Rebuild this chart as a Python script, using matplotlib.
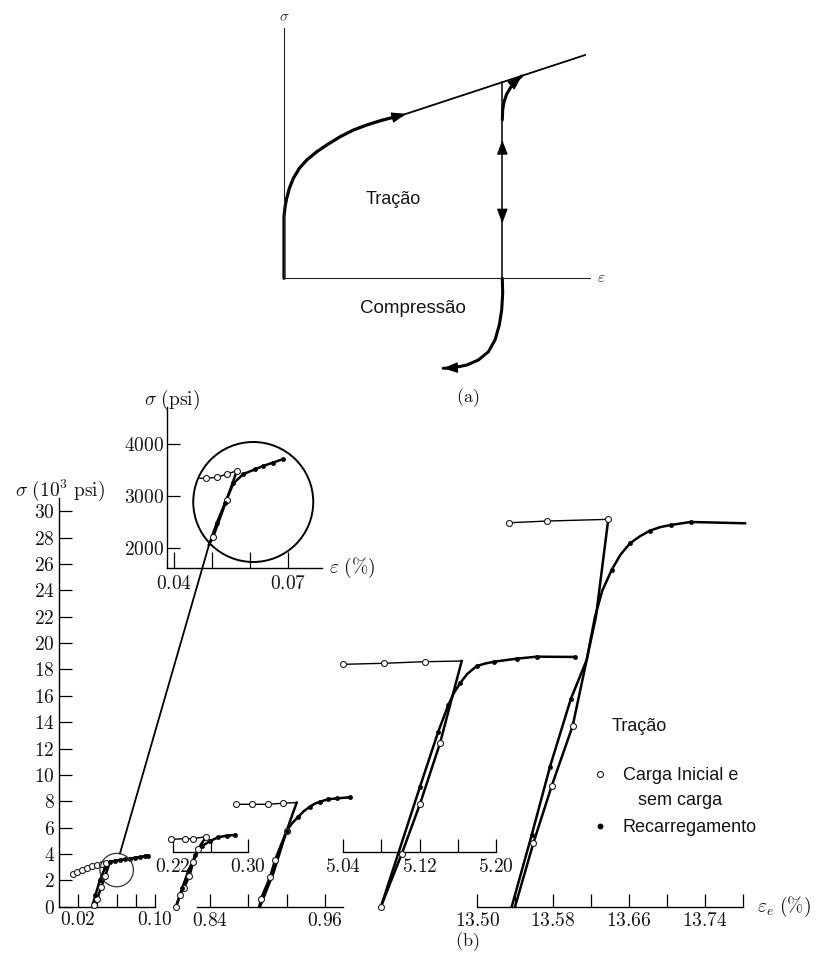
import numpy as np
import matplotlib.pyplot as plt
from matplotlib.lines import Line2D
from matplotlib.patches import Ellipse, ConnectionPatch

plt.rcParams['mathtext.fontset'] = 'cm'
plt.rcParams['font.family'] = ['Liberation Sans', 'DejaVu Sans']

# ---------------------------------------------------------------------------
# (a) schematic curve, arbitrary units (strain, stress)
# ---------------------------------------------------------------------------
a_curve_eps = [0.0, 0.0, 0.0033, 0.0087, 0.0174, 0.0305, 0.0501, 0.0741, 0.1068,
               0.1394, 0.183, 0.2266, 0.2702, 0.3137, 0.3572, 0.3846]
a_curve_sig = [0.0, 0.246, 0.286, 0.320, 0.360, 0.400, 0.440, 0.473, 0.506,
               0.533, 0.566, 0.593, 0.613, 0.630, 0.644, 0.652]
a_line_eps = [0.3846, 0.9837]
a_line_sig = [0.652, 0.893]
a_unload_eps = 0.7134
a_up_tip, a_down_tip = 0.553, 0.22
a_reload_eps = [0.7134, 0.7147, 0.719, 0.7278, 0.7408, 0.7582, 0.7768]
a_reload_sig = [0.633, 0.673, 0.706, 0.737, 0.764, 0.789, 0.809]
a_comp_eps = [0.7134, 0.7147, 0.7114, 0.7036, 0.6895, 0.6678, 0.635, 0.5971, 0.5533, 0.5206]
a_comp_sig = [0.0, -0.06, -0.127, -0.187, -0.247, -0.294, -0.327, -0.347, -0.358, -0.36]

# ---------------------------------------------------------------------------
# (b) measured loops: strain in %, stress in 10^3 psi
# ---------------------------------------------------------------------------
# loop 1
l1_init_eps = [0.0143, 0.0191, 0.0240, 0.0295, 0.0347, 0.0393, 0.0445, 0.0490, 0.0531]
l1_init_sig = [2.48, 2.61, 2.78, 2.96, 3.11, 3.16, 3.22, 3.29, 3.41]
l1_unl_eps = [0.0531, 0.0480, 0.0440, 0.0400, 0.0362]
l1_unl_sig = [3.41, 2.30, 1.50, 0.62, 0.10]
l1_rel_eps = [0.0345, 0.0380, 0.0427, 0.0479, 0.0531, 0.0583, 0.0635, 0.0688,
              0.0740, 0.0792, 0.0844, 0.0896, 0.0930]
l1_rel_sig = [0.0, 0.89, 2.03, 2.94, 3.41, 3.49, 3.54, 3.60, 3.64, 3.72, 3.77, 3.85, 3.87]
l1_zoom_center = (0.0601, 2.78)
l1_link = (0.0635, 4.04)

# loop 1 enlarged, stress in psi
in_init_eps = [0.0468, 0.0483, 0.0512, 0.0538, 0.0565]
in_init_sig = [3343, 3343, 3362, 3420, 3489]
in_unl_eps = [0.0565, 0.0538, 0.0503, 0.0492]
in_unl_sig = [3489, 2927, 2224, 2070]
in_rel_eps = [0.0492, 0.0512, 0.0534, 0.0556, 0.0582, 0.0613, 0.0634, 0.0659, 0.0685]
in_rel_sig = [2070, 2481, 2870, 3247, 3425, 3515, 3579, 3642, 3707]
in_zoom_center = (0.0608, 2889)

# loop 2
l2_init_eps = [0.2179, 0.2330, 0.2418, 0.2552]
l2_init_sig = [5.11, 5.16, 5.16, 5.31]
l2_unl_eps = [0.2552, 0.2471, 0.2418, 0.2376, 0.2320, 0.2277, 0.2235]
l2_unl_sig = [5.31, 4.40, 3.41, 2.30, 1.45, 0.89, 0.0]
l2_rel_eps = [0.2235, 0.2300, 0.2370, 0.2440, 0.2510, 0.2595, 0.2683, 0.2771, 0.2859]
l2_rel_sig = [0.0, 1.40, 2.80, 3.90, 4.60, 4.98, 5.27, 5.39, 5.44]

# loop 3
l3_init_eps = [0.8668, 0.8836, 0.9003, 0.9166, 0.9305]
l3_init_sig = [7.77, 7.77, 7.77, 7.85, 7.90]
l3_unl_eps = [0.9305, 0.9201, 0.9079, 0.9027, 0.8930, 0.8915]
l3_unl_sig = [7.90, 5.77, 3.54, 2.23, 0.58, 0.0]
l3_rel_eps = [0.8922, 0.9061, 0.9201, 0.9260, 0.9322, 0.9380, 0.9444, 0.9495,
              0.9549, 0.9635, 0.9723, 0.9862]
l3_rel_sig = [0.0, 2.53, 5.77, 6.35, 6.83, 7.25, 7.59, 7.82, 7.97, 8.15, 8.22, 8.30]
l3_rel_dots = [2, 4, 6, 8, 9, 10, 11]

# loop 4
l4_init_eps = [5.0400, 5.0830, 5.1258, 5.1643]
l4_init_sig = [18.39, 18.47, 18.59, 18.64]
l4_unl_eps = [5.1643, 5.1415, 5.1205, 5.1013, 5.0795]
l4_unl_sig = [18.64, 12.40, 7.79, 4.00, 0.0]
l4_rel_eps = [5.0795, 5.1205, 5.1397, 5.1502, 5.1560, 5.1625, 5.1700, 5.1800,
              5.1890, 5.1985, 5.2220, 5.2430, 5.2833]
l4_rel_sig = [0.0, 9.10, 13.28, 15.30, 16.20, 16.95, 17.65, 18.26, 18.45, 18.59,
              18.82, 18.97, 18.95]
l4_rel_dots = [1, 2, 3, 5, 7, 9, 10, 11, 12]

# loop 5
l5_init_eps = [13.5338, 13.5732, 13.6382]
l5_init_sig = [29.13, 29.26, 29.39]
l5_unl_eps = [13.6382, 13.6252, 13.6154, 13.6006, 13.5785, 13.5591, 13.5398]
l5_unl_sig = [29.39, 22.0, 18.71, 13.71, 9.16, 4.81, 0.0]
l5_rel_eps = [13.5363, 13.5574, 13.5767, 13.5986, 13.6154, 13.6242, 13.6320, 13.6418,
              13.6510, 13.6611, 13.6715, 13.6822, 13.6930, 13.7041, 13.7252, 13.7825]
l5_rel_sig = [0.0, 5.44, 10.62, 15.74, 18.72, 22.0, 24.0, 25.55, 26.7, 27.57, 28.1,
              28.53, 28.8, 28.96, 29.19, 29.09]
l5_rel_dots = [1, 2, 3, 7, 9, 11, 13, 14]

main_yticks = list(range(0, 31, 2))

W, H = 818, 965
fig = plt.figure(figsize=(W / 100, H / 100), dpi=100)
INK = '#141414'


def fpos(x, y):
    return (x / W, 1 - y / H)


def px_axes(x0, y0, x1, y1):
    ax = fig.add_axes([x0 / W, 1 - y1 / H, (x1 - x0) / W, (y1 - y0) / H])
    ax.patch.set_alpha(0)
    for s in ax.spines.values():
        s.set_visible(False)
    ax.set_xticks([])
    ax.set_yticks([])
    return ax


def arrow_head(ax, tip, tail):
    ax.annotate('', xy=tip, xytext=tail,
                arrowprops=dict(arrowstyle='-|>,head_length=0.75,head_width=0.28',
                                color='k', lw=0.8, shrinkA=0, shrinkB=0,
                                mutation_scale=12))


# ---------------------------------------------------------------- part (a)
ax_p = px_axes(253.4, 15.8, 620.6, 390.8)
ax_p.set_xlim(-0.1, 1.1)
ax_p.set_ylim(-0.45, 1.05)
for side in ('left', 'bottom'):
    sp = ax_p.spines[side]
    sp.set_visible(True)
    sp.set_position(('data', 0))
    sp.set_bounds(0, 1.0)
    sp.set_linewidth(0.8)
    sp.set_color('#222')

ax_p.plot(a_curve_eps, a_curve_sig, color='k', lw=2.3,
          solid_capstyle='round', solid_joinstyle='round')
ax_p.plot(a_line_eps, a_line_sig, color='k', lw=1.3)
sig_top = np.interp(a_unload_eps, a_line_eps, a_line_sig)
ax_p.plot([a_unload_eps, a_unload_eps], [0, sig_top], color='k', lw=1.1)
ax_p.plot(a_reload_eps, a_reload_sig, color='k', lw=2.2, solid_capstyle='round')
ax_p.plot(a_comp_eps, a_comp_sig, color='k', lw=2.2, solid_capstyle='round')

tip_eps = a_curve_eps[-1] + 0.014
arrow_head(ax_p, (tip_eps, np.interp(tip_eps, a_line_eps, a_line_sig)),
           (a_curve_eps[-2], a_curve_sig[-2]))
arrow_head(ax_p, (a_unload_eps, a_up_tip), (a_unload_eps, a_up_tip - 0.05))
arrow_head(ax_p, (a_unload_eps, a_down_tip), (a_unload_eps, a_down_tip + 0.05))
arrow_head(ax_p, (a_reload_eps[-1], a_reload_sig[-1]), (a_reload_eps[-2], a_reload_sig[-2]))
arrow_head(ax_p, (a_comp_eps[-1], a_comp_sig[-1]), (a_comp_eps[-2], a_comp_sig[-2]))

ax_p.text(0.0, 1.046, r'$\sigma$', ha='center', va='center', fontsize=11, color='#333')
ax_p.text(1.038, 0.0, r'$\varepsilon$', ha='center', va='center', fontsize=11, color='#333')
ax_p.text(0.357, 0.316, 'Tração', ha='center', va='center', fontsize=13, color=INK)
ax_p.text(0.4225, -0.12, 'Compressão', ha='center', va='center', fontsize=13.5, color=INK)
fig.text(*fpos(468, 398), r'$\mathrm{(a)}$', ha='center', va='center', fontsize=13, color=INK)

# ---------------------------------------------------------------- part (b)
SIG0_PX, PX_PER_KSI = 906.7, 13.18
SIG_LO, SIG_HI = -1.5, 31.5
Y_TOP = SIG0_PX - SIG_HI * PX_PER_KSI
Y_BOT = SIG0_PX - SIG_LO * PX_PER_KSI


def strain_axes(x0, x1, ref, ref_px, px_per_pct):
    ax = px_axes(x0, Y_TOP, x1, Y_BOT)
    ax.set_xlim(ref + (x0 - ref_px) / px_per_pct, ref + (x1 - ref_px) / px_per_pct)
    ax.set_ylim(SIG_LO, SIG_HI)
    return ax


def strain_scale(ax, level, lo, hi, ticks, labeled, pad, length=9.5):
    sp = ax.spines['bottom']
    sp.set_visible(True)
    sp.set_position(('data', level))
    sp.set_bounds(lo, hi)
    sp.set_linewidth(1.0)
    labels = [f'${t:.2f}$' if any(abs(t - l) < 1e-9 for l in labeled) else '' for t in ticks]
    ax.set_xticks(ticks, labels=labels)
    ax.tick_params(axis='x', direction='in', length=length, width=0.9, pad=pad,
                   labelsize=14, labelcolor=INK)


def draw_loop(ax, init, unl, rel, init_mk, unl_mk, rel_mk):
    ax.plot(*init, color='k', lw=1.0, clip_on=False, zorder=2)
    ax.plot(*unl, color='k', lw=1.8, clip_on=False, zorder=2,
            solid_joinstyle='round')
    ax.plot(*rel, color='k', lw=1.8, clip_on=False, zorder=2,
            solid_joinstyle='round')
    for (e, s), mk in ((init, init_mk), (unl, unl_mk)):
        ax.plot(e, s, ls='none', marker='o', ms=4.3, mfc='white', mec='#1c1c2a',
                mew=0.8, markevery=mk, clip_on=False, zorder=4)
    ax.plot(*rel, ls='none', marker='o', ms=3.2, mfc='k', mec='k', mew=0.3,
            markevery=rel_mk, clip_on=False, zorder=4)


# main axis with loop 1
ax_m = strain_axes(59, 160, 0.0, 59, 960)
ax_m.spines['left'].set_visible(True)
ax_m.spines['left'].set_bounds(0, 31)
ax_m.spines['left'].set_linewidth(1.0)
ax_m.set_yticks(main_yticks, labels=[f'${v}$' for v in main_yticks])
ax_m.tick_params(axis='y', direction='in', length=9, width=0.9, pad=3,
                 labelsize=14, labelcolor=INK)
strain_scale(ax_m, 0, 0.0, 0.10, [0.02, 0.04, 0.06, 0.08, 0.10], [0.02, 0.10], pad=3)
draw_loop(ax_m, (l1_init_eps, l1_init_sig), (l1_unl_eps, l1_unl_sig), (l1_rel_eps, l1_rel_sig),
          list(range(8)), [1, 2, 3, 4], list(range(1, 13)))
ax_m.add_patch(Ellipse(l1_zoom_center, 2 * 16.7 / 960, 2 * 16.7 / PX_PER_KSI,
                       fill=False, lw=0.9, ec='#333', clip_on=False, zorder=5))
fig.text(*fpos(60, 490), r'$\sigma\ (10^3\ \mathrm{psi})$', ha='center', va='center',
         fontsize=14, color=INK)

# enlarged view of loop 1 (stress in psi)
IN_X0, IN_X1, IN_Y0, IN_Y1 = 166.7, 321.7, 406.7, 567.7
ax_i = px_axes(IN_X0, IN_Y0, IN_X1, IN_Y1)
ax_i.set_xlim(0.04 + (IN_X0 - 174) / 3810, 0.04 + (IN_X1 - 174) / 3810)
ax_i.set_ylim(4000 - (IN_Y1 - 444) / 0.0522, 4000 + (444 - IN_Y0) / 0.0522)
for side in ('left', 'bottom'):
    ax_i.spines[side].set_visible(True)
    ax_i.spines[side].set_linewidth(1.0)
ax_i.set_yticks([2000, 3000, 4000], labels=[r'$2000$', r'$3000$', r'$4000$'])
ax_i.tick_params(axis='y', direction='in', length=9.5, width=0.9, pad=2,
                 labelsize=14, labelcolor=INK)
ax_i.set_xticks([0.04, 0.05, 0.06, 0.07], labels=[r'$0.04$', '', '', r'$0.07$'])
ax_i.tick_params(axis='x', direction='in', length=11.5, width=0.9, pad=5,
                 labelsize=14, labelcolor=INK)
draw_loop(ax_i, (in_init_eps, in_init_sig), (in_unl_eps, in_unl_sig), (in_rel_eps, in_rel_sig),
          [1, 2, 3, 4], [1, 2], list(range(1, 9)))
ax_i.add_patch(Ellipse(in_zoom_center, 2 * 60 / 3810, 2 * 60 / 0.0522,
                       fill=False, lw=1.4, ec='k', clip_on=False, zorder=5))
fig.text(*fpos(171.5, 400), r'$\sigma\ (\mathrm{psi})$', ha='center', va='center',
         fontsize=14, color=INK)
fig.text(*fpos(351.7, 568.3), r'$\varepsilon\ (\%)$', ha='center', va='center',
         fontsize=14, color=INK)

fig.add_artist(ConnectionPatch(xyA=l1_link, coordsA=ax_m.transData,
                               xyB=(in_rel_eps[0], in_rel_sig[0]), coordsB=ax_i.transData,
                               color='k', lw=1.3))

# loop 2
ax2 = strain_axes(160, 262, 0.22, 172.7, 945)
strain_scale(ax2, 4.17, 0.22, 0.30, [0.22, 0.26, 0.30], [0.22, 0.30], pad=4.5)
draw_loop(ax2, (l2_init_eps, l2_init_sig), (l2_unl_eps, l2_unl_sig), (l2_rel_eps, l2_rel_sig),
          [0, 1, 2, 3], [1, 2, 3, 4, 5, 6], list(range(1, 9)))

# loop 3
ax3 = strain_axes(190, 362, 0.84, 210, 957.5)
strain_scale(ax3, 0, 0.8267, 0.979, [0.84, 0.88, 0.92, 0.96], [0.84, 0.96], pad=4)
draw_loop(ax3, (l3_init_eps, l3_init_sig), (l3_unl_eps, l3_unl_sig), (l3_rel_eps, l3_rel_sig),
          [0, 1, 2, 3], [1, 2, 3, 4], l3_rel_dots)

# loop 4
ax4 = strain_axes(330, 600, 5.04, 343.3, 952.5)
strain_scale(ax4, 4.17, 5.04, 5.20, [5.04, 5.08, 5.12, 5.16, 5.20], [5.04, 5.12, 5.20], pad=4.5)
draw_loop(ax4, (l4_init_eps, l4_init_sig), (l4_unl_eps, l4_unl_sig), (l4_rel_eps, l4_rel_sig),
          [0, 1, 2], [1, 2, 3, 4], l4_rel_dots)

# loop 5
ax5 = strain_axes(470, 760, 13.50, 477.3, 947.6)
strain_scale(ax5, 0, 13.50, 13.78, [13.50 + 0.04 * i for i in range(8)],
             [13.50, 13.58, 13.66, 13.74], pad=3.5)
draw_loop(ax5, (l5_init_eps, l5_init_sig), (l5_unl_eps, l5_unl_sig), (l5_rel_eps, l5_rel_sig),
          [0, 1, 2], [3, 4, 5], l5_rel_dots)
fig.text(*fpos(784, 907.3), r'$\varepsilon_e\ (\%)$', ha='center', va='center',
         fontsize=14, color=INK)

# legend
h_open = Line2D([], [], ls='none', marker='o', ms=4.3, mfc='white', mec='#1c1c2a', mew=0.8)
h_fill = Line2D([], [], ls='none', marker='o', ms=3.2, mfc='k', mec='k')
ax5.legend([h_open, h_fill], ['Carga Inicial e', 'Recarregamento'],
           loc='upper left', bbox_to_anchor=fpos(590.5, 767), bbox_transform=fig.transFigure,
           frameon=False, fontsize=13, handlelength=1.0, handletextpad=0.8,
           labelspacing=1.95, borderpad=0, borderaxespad=0, labelcolor=INK)
fig.text(*fpos(611.7, 726.7), 'Tração', ha='left', va='center', fontsize=13, color=INK)
fig.text(*fpos(680, 800.7), 'sem carga', ha='center', va='center', fontsize=13, color=INK)

fig.text(*fpos(467, 942), r'$\mathrm{(b)}$', ha='center', va='center', fontsize=13, color=INK)

fig.savefig('out.png', dpi=100)
